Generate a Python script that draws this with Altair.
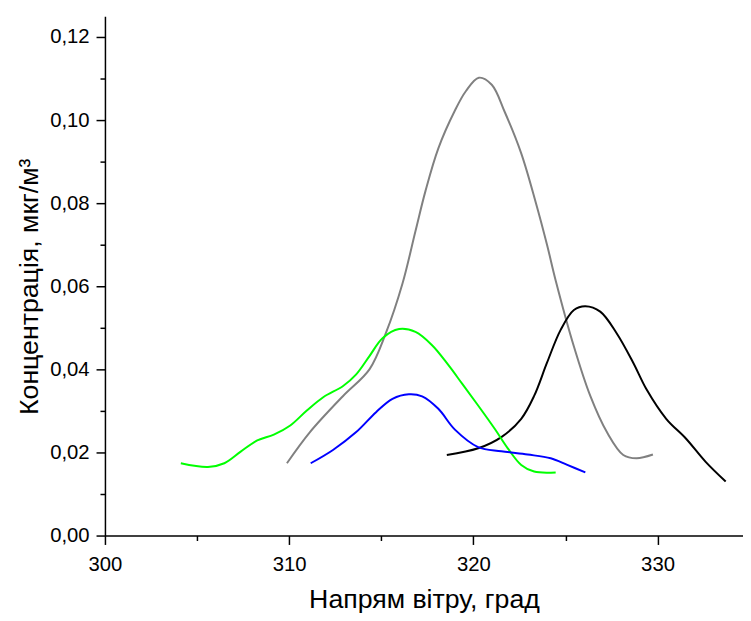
import altair as alt
import pandas as pd

# Grey series
grey_x = [309.88, 311.13, 312.93, 314.36, 315.25, 316.15, 316.86, 317.4, 318.1, 319.0, 319.6, 320.3,
          321.0, 321.7, 322.6, 323.4, 324.0, 324.47, 325.46, 326.35, 327.25, 328.14, 328.86, 329.75]
grey_y = [0.0174, 0.0249, 0.0336, 0.0400, 0.0487, 0.0606, 0.0733, 0.0829, 0.0932, 0.1023, 0.1070, 0.1102,
          0.1085, 0.1020, 0.0920, 0.0800, 0.0700, 0.0614, 0.0455, 0.0336, 0.0249, 0.0194, 0.0186, 0.0195]

# Black series
black_x = [318.56, 320.26, 321.52, 322.6, 323.3, 324.0, 324.74, 325.46, 326.08, 326.89, 327.78, 328.68,
           329.4, 330.47, 331.55, 332.6, 333.7]
black_y = [0.0194, 0.0210, 0.0237, 0.0281, 0.0336, 0.0416, 0.0495, 0.0543, 0.0552, 0.0539, 0.0487, 0.0416,
           0.0352, 0.0281, 0.0233, 0.0178, 0.0130]

# Green series
green_x = [304.12, 305.59, 306.48, 307.37, 308.27, 309.17, 310.06, 310.96, 311.85, 312.93, 313.64, 314.36,
           315.07, 315.97, 316.86, 317.76, 318.65, 319.4, 320.26, 321.16, 321.87, 322.6, 323.3, 324.47]
green_y = [0.0174, 0.0165, 0.0174, 0.0202, 0.0229, 0.0243, 0.0265, 0.0301, 0.0333, 0.0360, 0.0388, 0.0432,
           0.0475, 0.0497, 0.0490, 0.0458, 0.0410, 0.0365, 0.0313, 0.0257, 0.0210, 0.0170, 0.0154, 0.0152]

# Blue series
blue_x = [311.17, 312.38, 313.64, 314.72, 315.61, 316.5, 317.22, 318.1, 319.0, 320.26, 321.52, 322.95,
          324.2, 325.1, 326.08]
blue_y = [0.0174, 0.0206, 0.0249, 0.0297, 0.0329, 0.0340, 0.0335, 0.0305, 0.0255, 0.0213, 0.0203, 0.0195,
          0.0186, 0.0170, 0.0152]

series_names = ["grey", "black", "green", "blue"]
series_colors = ["#808080", "#000000", "#00ff00", "#0000ff"]

x_ticks = [300, 305, 310, 315, 320, 325, 330]
y_ticks = [0.0, 0.01, 0.02, 0.03, 0.04, 0.05, 0.06, 0.07, 0.08, 0.09, 0.10, 0.11, 0.12]

rows = []
for name, xs, ys in zip(series_names, [grey_x, black_x, green_x, blue_x], [grey_y, black_y, green_y, blue_y]):
    for i, (a, b) in enumerate(zip(xs, ys)):
        rows.append({"series": name, "x": a, "y": b, "i": i})
df = pd.DataFrame(rows)

FONT = "Liberation Sans"
xscale = alt.Scale(domain=[300, 334.64], nice=False, zero=False)
yscale = alt.Scale(domain=[0, 0.125], nice=False)

x_major_test = "round(datum.value) % 10 === 0"
y_major_test = "round(datum.value * 100) % 2 === 0"

common = dict(grid=False, domainColor="black", tickColor="black", domainWidth=1.5, tickWidth=1.5,
              labelColor="black", titleColor="black", labelFont=FONT, titleFont=FONT,
              titleFontWeight="normal", labelFontSize=20.5, titleFontSize=27)

lines = alt.Chart(df).mark_line(strokeWidth=2, interpolate="catmull-rom").encode(
    x=alt.X("x:Q", scale=xscale,
            axis=alt.Axis(values=x_ticks, title="Напрям вітру, град", orient="bottom",
                          labelExpr=f"{x_major_test} ? format(datum.value, 'd') : ''",
                          tickSize={"condition": {"test": x_major_test, "value": 9}, "value": 5},
                          labelPadding=10, titlePadding=12, labelFlush=False, **common)),
    y=alt.Y("y:Q", scale=yscale,
            axis=alt.Axis(values=y_ticks, title="Концентрація, мкг/м³", orient="left",
                          labelExpr=f"{y_major_test} ? replace(format(datum.value, '.2f'), '.', ',') : ''",
                          tickSize={"condition": {"test": y_major_test, "value": 9}, "value": 5},
                          labelPadding=7, titlePadding=6, labelFlush=False, titleY=273, **common)),
    color=alt.Color("series:N", scale=alt.Scale(domain=series_names, range=series_colors), legend=None),
    order="i:Q",
).properties(
    width=645, height=525,
    autosize=alt.AutoSizeParams(type="none"),
    padding={"left": 98, "top": 5, "right": 0, "bottom": 75},
).configure_view(stroke=None)

chart = lines
chart.save("out.html", embed_options={"renderer": "svg", "actions": False})
